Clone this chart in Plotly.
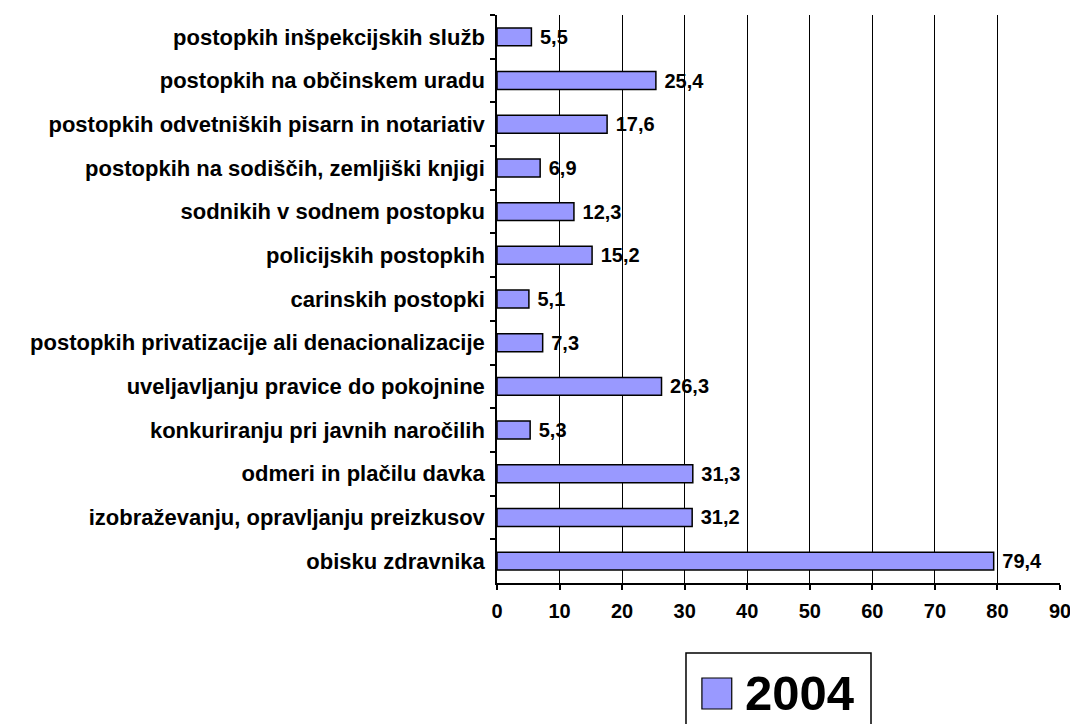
import plotly.graph_objects as go

categories = [
    "postopkih inšpekcijskih služb",
    "postopkih na občinskem uradu",
    "postopkih odvetniških pisarn in notariativ",
    "postopkih na sodiščih, zemljiški knjigi",
    "sodnikih v sodnem postopku",
    "policijskih postopkih",
    "carinskih postopki",
    "postopkih privatizacije ali denacionalizacije",
    "uveljavljanju pravice do pokojnine",
    "konkuriranju pri javnih naročilih",
    "odmeri in plačilu davka",
    "izobraževanju, opravljanju preizkusov",
    "obisku zdravnika",
]
values_2004 = [5.5, 25.4, 17.6, 6.9, 12.3, 15.2, 5.1, 7.3, 26.3, 5.3, 31.3, 31.2, 79.4]
series_name = "2004"
x_ticks = [0, 10, 20, 30, 40, 50, 60, 70, 80, 90]

FONT = "Liberation Sans, Arial, sans-serif"
BAR_COLOR = "#9999FF"

# page is shifted by the default 8px body margin
OFF = 8
PAGE_W, PAGE_H = 1078, 724
W, H = PAGE_W - OFF, PAGE_H - OFF
# plot area in page pixels
PL, PR, PT, PB = 497, 1063, 15, 583
L, R, T, B = PL - OFF, PAGE_W - PR, PT - OFF, H - (PB - OFF)
pw, ph = PR - PL, PB - PT

def px(x):
    return (x - PL) / pw

def py(y):
    return (PB - y) / ph

fig = go.Figure()
fig.add_trace(go.Bar(
    y=categories,
    x=values_2004,
    orientation="h",
    name=series_name,
    marker=dict(color=BAR_COLOR, line=dict(color="black", width=1.5)),
    texttemplate=" %{x:.1f}",
    textposition="outside",
    constraintext="none",
    textfont=dict(family=FONT, size=20, color="black", weight="bold"),
    cliponaxis=False,
    showlegend=False,
))

fig.update_layout(
    width=W, height=H,
    margin=dict(l=L, r=R, t=T, b=B),
    paper_bgcolor="white", plot_bgcolor="white",
    separators=",.",
    bargap=0.59,
    font=dict(family=FONT, color="black"),
    xaxis=dict(
        range=[0, 90], tickvals=x_ticks,
        showgrid=True, gridcolor="black", gridwidth=1,
        ticks="outside", ticklen=5, tickcolor="black", tickwidth=1.5,
        showline=True, linecolor="black", linewidth=1.5,
        zeroline=False,
        tickfont=dict(family=FONT, size=20, color="black", weight="bold"),
        ticklabelstandoff=4,
    ),
    yaxis=dict(
        autorange="reversed",
        showgrid=False,
        tickson="boundaries",
        ticks="outside", ticklen=5, tickcolor="black", tickwidth=1.5,
        showline=True, linecolor="black", linewidth=1.5,
        tickfont=dict(family=FONT, size=22, color="black", weight="bold"),
        ticklabelstandoff=6,
    ),
    shapes=[
        dict(type="rect", xref="paper", yref="paper",
             x0=px(687), x1=px(873), y0=py(653), y1=py(740),
             line=dict(color="black", width=1.5), fillcolor="white", layer="above"),
        dict(type="rect", xref="paper", yref="paper",
             x0=px(703), x1=px(733), y0=py(678), y1=py(709),
             line=dict(color="black", width=1.2), fillcolor=BAR_COLOR, layer="above"),
    ],
    annotations=[
        dict(text=series_name, xref="paper", yref="paper",
             x=px(744), y=py(693), xanchor="left", yanchor="middle",
             showarrow=False,
             font=dict(family=FONT, size=49, color="black", weight="bold")),
    ],
)

fig.write_html("out.html")
